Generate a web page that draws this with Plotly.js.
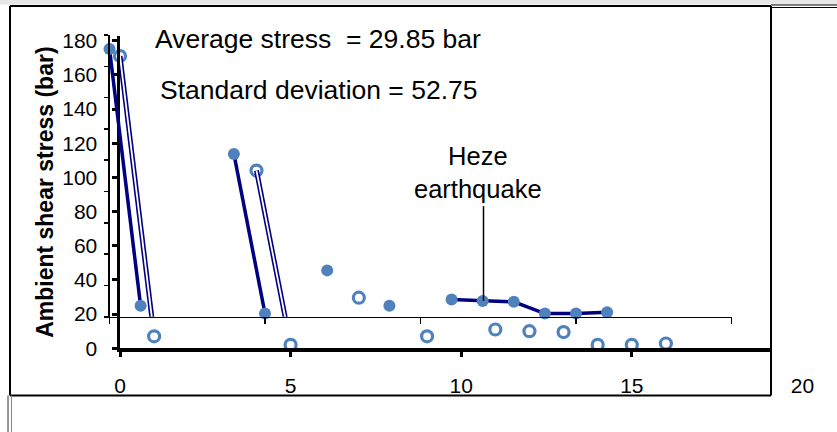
<!DOCTYPE html>
<html>
<head>
<meta charset="utf-8">
<script src="https://cdn.plot.ly/plotly-3.0.1.min.js"></script>
<style>html,body{margin:0;padding:0;background:#fff;}#chart{width:837px;height:432px;}</style>
</head>
<body>
<div id="chart"></div>
<script>
// ---- data ----
const sequenceIndex = [0,1,2,3,4,5,6,7,8,9,10,11,12,13,14,15,16];
const shearStress   = [171, 7, null, null, 104, 2, null, 29.6, null, 7, null, 11, 10, 9.5, 2, 2, 2.8];
const yTickVals = [0,20,40,60,80,100,120,140,160,180];
const xTickVals = [0,5,10,15,20];
const xTickText = ['0','5','10','15','20'];
const avgText = 'Average stress\u00A0 = 29.85 bar';
const sdText = 'Standard deviation = 52.75';
const eventText = 'Heze<br>earthquake';

// ---- geometry helpers (pixel -> paper) ----
const W = 837, H = 432;
const px = v => v / W;
const py = v => 1 - v / H;

const FONT = 'Liberation Sans, Arial, sans-serif';
const MARKER = '#4F81BD';
const NAVY = '#000080';

// thick (front) chart scale
const tk = {x0:120, xr:771, pxPerX:34.12, y0:348.3, yt:36, pxPerY:1.709};
// thin (back) chart scale
const tn = {x0:109.5, xr:731.5, y0:316.7, yt:35};

const traces = [
  { // open-circle copy of the series
    x: sequenceIndex, y: shearStress, xaxis:'x', yaxis:'y', type:'scatter', mode:'markers',
    cliponaxis:false,
    marker:{symbol:'circle-open', size:11, color:MARKER, line:{width:3.2, color:MARKER}}
  },
  { // double line (outer)
    x: sequenceIndex, y: shearStress, xaxis:'x3', yaxis:'y3', type:'scatter', mode:'lines',
    connectgaps:false, line:{color:NAVY, width:5}
  },
  { // double line (inner white)
    x: sequenceIndex, y: shearStress, xaxis:'x3', yaxis:'y3', type:'scatter', mode:'lines',
    connectgaps:false, line:{color:'#ffffff', width:1.8}
  },
  { // filled copy of the series
    x: sequenceIndex, y: shearStress, xaxis:'x2', yaxis:'y2', type:'scatter', mode:'lines+markers',
    connectgaps:false, cliponaxis:false,
    line:{color:NAVY, width:3.5},
    marker:{symbol:'circle', size:12, color:MARKER}
  }
];

const layout = {
  width: W, height: H,
  margin:{l:0,r:0,t:0,b:0,pad:0},
  paper_bgcolor:'#ffffff', plot_bgcolor:'rgba(0,0,0,0)',
  showlegend:false,
  font:{family:FONT, color:'#000'},
  xaxis:{
    domain:[px(tk.x0), px(tk.xr)], range:[0, (tk.xr-tk.x0)/tk.pxPerX], anchor:'y',
    showgrid:false, zeroline:false, showline:true, linecolor:'#000', linewidth:3.5,
    ticks:'outside', ticklen:5, tickwidth:3, tickcolor:'#000', tickvals:[0,5,10,15],
    showticklabels:false
  },
  yaxis:{
    domain:[py(tk.y0), py(tk.yt)], range:[0, (tk.y0-tk.yt)/tk.pxPerY], anchor:'x',
    showgrid:false, zeroline:false, showline:true, linecolor:'#000', linewidth:3.5,
    ticks:'outside', ticklen:5, tickwidth:3, tickcolor:'#000', tickvals:yTickVals,
    tickfont:{size:21, family:FONT, color:'#000'}, ticklabelstandoff:10,
    title:{text:'<b>Ambient shear stress (bar)</b>', font:{size:23, family:FONT, color:'#000'}, standoff:3}
  },
  xaxis2:{
    domain:[px(tn.x0), px(tn.xr)], range:[0,20], anchor:'y2',
    showgrid:false, zeroline:false, showline:true, linecolor:'#000', linewidth:1.6,
    ticks:'outside', ticklen:6, tickwidth:1.6, tickcolor:'#000', tickvals:xTickVals,
    showticklabels:false
  },
  yaxis2:{
    domain:[py(tn.y0), py(tn.yt)], range:[0,180], anchor:'x2',
    showgrid:false, zeroline:false, showline:true, linecolor:'#000', linewidth:1.6,
    ticks:'outside', ticklen:4, tickwidth:1.6, tickcolor:'#000', tickvals:yTickVals,
    showticklabels:false
  },
  xaxis3:{
    domain:[px(tk.x0), px(836)], range:[0, (836-tk.x0)/tk.pxPerX],
    anchor:'free', position:py(tk.y0),
    showgrid:false, zeroline:false, showline:false, ticks:'',
    tickvals:xTickVals, ticktext:xTickText,
    tickfont:{size:21, family:FONT, color:'#000'}, ticklabelstandoff:23
  },
  yaxis3:{
    domain:[py(tn.y0), py(tk.yt)], range:[(tk.y0-tn.y0)/tk.pxPerY, (tk.y0-tk.yt)/tk.pxPerY],
    anchor:'x3', visible:false
  },
  annotations:[
    {xref:'paper', yref:'paper', x:px(153), y:py(39), xanchor:'left', yanchor:'middle',
     text:avgText, showarrow:false, font:{size:26.5, family:FONT, color:'#000'}},
    {xref:'paper', yref:'paper', x:px(158), y:py(90), xanchor:'left', yanchor:'middle',
     text:sdText, showarrow:false, font:{size:26.5, family:FONT, color:'#000'}},
    {xref:'paper', yref:'paper', x:px(478), y:py(172), xanchor:'center', yanchor:'middle',
     text:eventText, showarrow:false, font:{size:25.5, family:FONT, color:'#000'}}
  ],
  shapes:[
    // top grey strip
    {type:'rect', xref:'paper', yref:'paper', x0:0, x1:1, y0:py(4.5), y1:1, fillcolor:'#e6e6e6', line:{width:0}, layer:'below'},
    // outer frame
    {type:'line', xref:'paper', yref:'paper', x0:px(10), x1:px(771), y0:py(6), y1:py(6), line:{color:'#000', width:2.2}},
    {type:'line', xref:'paper', yref:'paper', x0:px(771), x1:px(837), y0:py(5), y1:py(5), line:{color:'#000', width:1}},
    {type:'line', xref:'paper', yref:'paper', x0:px(771), x1:px(837), y0:py(7.5), y1:py(7.5), line:{color:'#000', width:1}},
    {type:'line', xref:'paper', yref:'paper', x0:px(10), x1:px(10), y0:py(6), y1:py(395.5), line:{color:'#000', width:2}},
    {type:'line', xref:'paper', yref:'paper', x0:px(771), x1:px(771), y0:py(6), y1:py(395.5), line:{color:'#000', width:2}},
    {type:'line', xref:'paper', yref:'paper', x0:px(10), x1:px(771), y0:py(395.5), y1:py(395.5), line:{color:'#000', width:2}},
    {type:'line', xref:'paper', yref:'paper', x0:px(8), x1:px(8), y0:py(395.5), y1:0, line:{color:'#333', width:1}},
    {type:'line', xref:'paper', yref:'paper', x0:px(11.5), x1:px(11.5), y0:py(395.5), y1:0, line:{color:'#888', width:1}},
    // leader line of the Heze earthquake label
    {type:'line', xref:'paper', yref:'paper', x0:px(483.5), x1:px(483.5), y0:py(206), y1:py(301), line:{color:'#000', width:1.5}}
  ]
};

Plotly.newPlot('chart', traces, layout, {staticPlot:true, displayModeBar:false});
</script>
</body>
</html>
